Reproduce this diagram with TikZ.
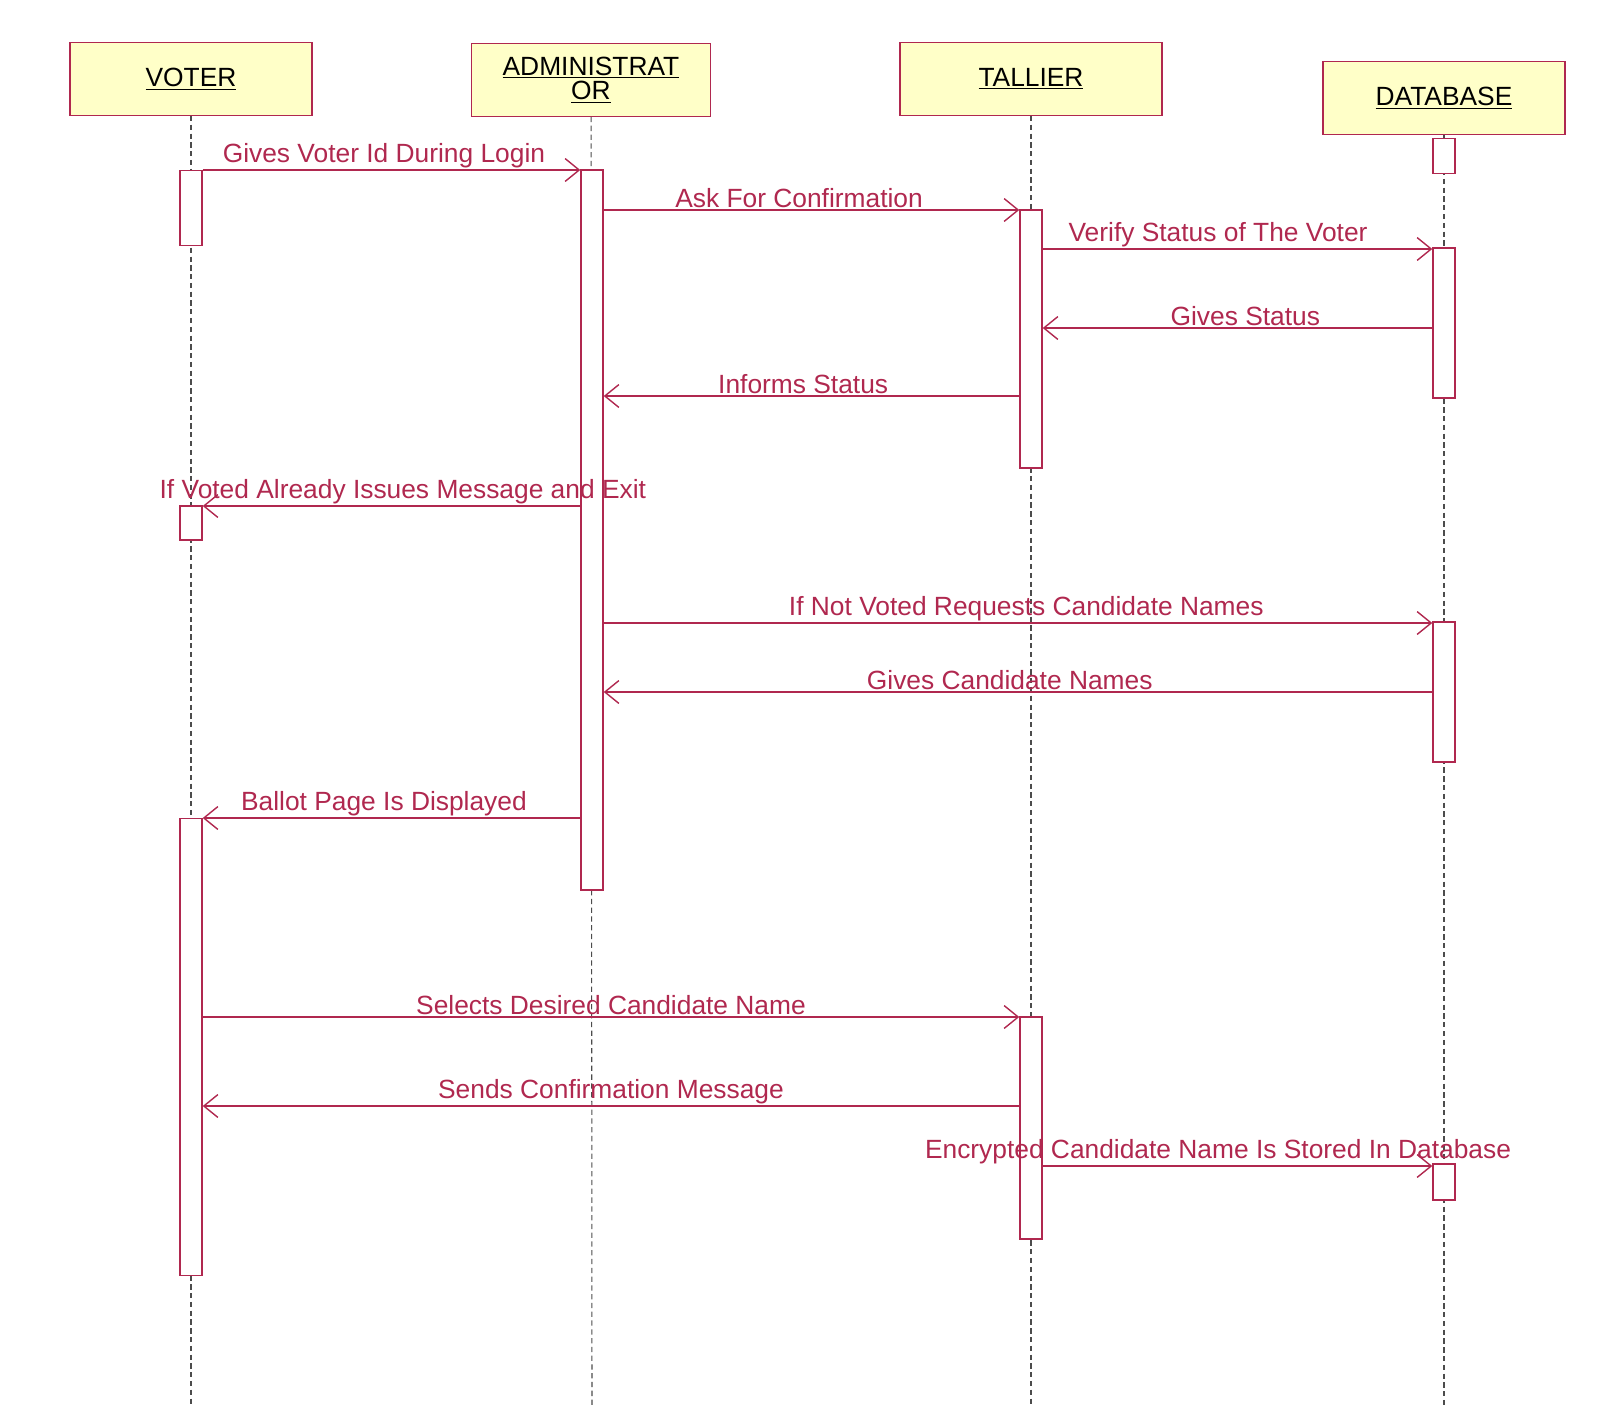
\documentclass[tikz,border=0pt]{standalone}
\usepackage{fontspec}
\setmainfont{Liberation Sans}
\usetikzlibrary{arrows.meta}
\definecolor{umlred}{HTML}{B0284F}
\definecolor{umlyellow}{HTML}{FFFFC8}
\begin{document}
\begin{tikzpicture}[x=0.02cm, y=-0.02cm,
        every node/.style={font=\fontsize{15}{16}\selectfont, inner sep=1pt},
        actor/.style={draw=umlred, fill=umlyellow, line width=0.8pt, minimum width=4.8cm, minimum height=1.45cm, align=center},
        act/.style={draw=umlred, fill=white, line width=0.8pt, minimum width=0.44cm, inner sep=0pt},
        life/.style={densely dashed, black!70, line width=0.6pt},
        msg/.style={umlred, line width=0.8pt, -{Straight Barb[length=8pt, width=13pt]}}
    ]
        \useasboundingbox (0,0) rectangle (1603,1420);
        % Objekte
        \node[actor, minimum width=4.84cm] (voter) at (191,79) {\underline{VOTER}};
        \node[actor, minimum width=4.78cm] (admin) at (591,80) {\underline{ADMINISTRAT}\\[-2pt]\underline{OR}};
        \node[actor, minimum width=5.24cm] (tallier) at (1031,79) {\underline{TALLIER}};
        \node[actor, minimum width=4.84cm] (db) at (1444,98) {\underline{DATABASE}};

        % Lebenslinien
        \coordinate (vend) at (191,1405);
        \coordinate (aend) at (592,1405);
        \coordinate (tend) at (1031,1405);
        \coordinate (dend) at (1444,1405);
        \draw[life] (voter) -- (vend);
        \draw[life] (admin) -- (aend);
        \draw[life] (tallier) -- (tend);
        \draw[life] (db) -- (dend);

        % Aktivierungen
        \node[act, minimum height=1.50cm] (v1) at (191,208) {};
        \node[act, minimum height=0.68cm] (v2) at (191,523) {};
        \node[act, minimum height=9.14cm] (v3) at (191,1047) {};
        \node[act, minimum height=14.40cm] (a1) at (592,530) {};
        \node[act, minimum height=5.16cm] (t1) at (1031,339) {};
        \node[act, minimum height=4.44cm] (t2) at (1031,1128) {};
        \node[act, minimum height=0.70cm] (d0) at (1444,156) {};
        \node[act, minimum height=3.00cm] (d1) at (1444,323) {};
        \node[act, minimum height=2.80cm] (d2) at (1444,692) {};
        \node[act, minimum height=0.72cm] (d3) at (1444,1182) {};

        % Nachrichten
        \coordinate (m1) at (0,170);
        \coordinate (m2) at (0,210);
        \coordinate (m3) at (0,249);
        \coordinate (m4) at (0,328);
        \coordinate (m5) at (0,396);
        \coordinate (m6) at (0,506);
        \coordinate (m7) at (0,623);
        \coordinate (m8) at (0,692);
        \coordinate (m9) at (0,818);
        \coordinate (m10) at (0,1017);
        \coordinate (m11) at (0,1106);
        \coordinate (m12) at (0,1166);
        \draw[msg] (v1.east |- m1) -- node[above, pos=0.48] {Gives Voter Id During Login} (a1.west |- m1);
        \draw[msg] (a1.east |- m2) -- node[above, pos=0.47] {Ask For Confirmation} (t1.west |- m2);
        \draw[msg] (t1.east |- m3) -- node[above, pos=0.45] {Verify Status of The Voter} (d1.west |- m3);
        \draw[msg] (d1.west |- m4) -- node[above, pos=0.48] {Gives Status} (t1.east |- m4);
        \draw[msg] (t1.west |- m5) -- node[above, pos=0.52] {Informs Status} (a1.east |- m5);
        \draw[msg] (a1.west |- m6) -- node[above, pos=0.47] {If Voted Already Issues Message and Exit} (v2.east |- m6);
        \draw[msg] (a1.east |- m7) -- node[above, pos=0.51] {If Not Voted Requests Candidate Names} (d2.west |- m7);
        \draw[msg] (d2.west |- m8) -- node[above, pos=0.51] {Gives Candidate Names} (a1.east |- m8);
        \draw[msg] (a1.west |- m9) -- node[above, pos=0.52] {Ballot Page Is Displayed} (v3.east |- m9);
        \draw[msg] (v3.east |- m10) -- node[above] {Selects Desired Candidate Name} (t2.west |- m10);
        \draw[msg] (t2.west |- m11) -- node[above] {Sends Confirmation Message} (v3.east |- m11);
        \draw[msg] (t2.east |- m12) -- node[above, pos=0.45] {Encrypted Candidate Name Is Stored In Database} (d3.west |- m12);
    \end{tikzpicture}
\end{document}
